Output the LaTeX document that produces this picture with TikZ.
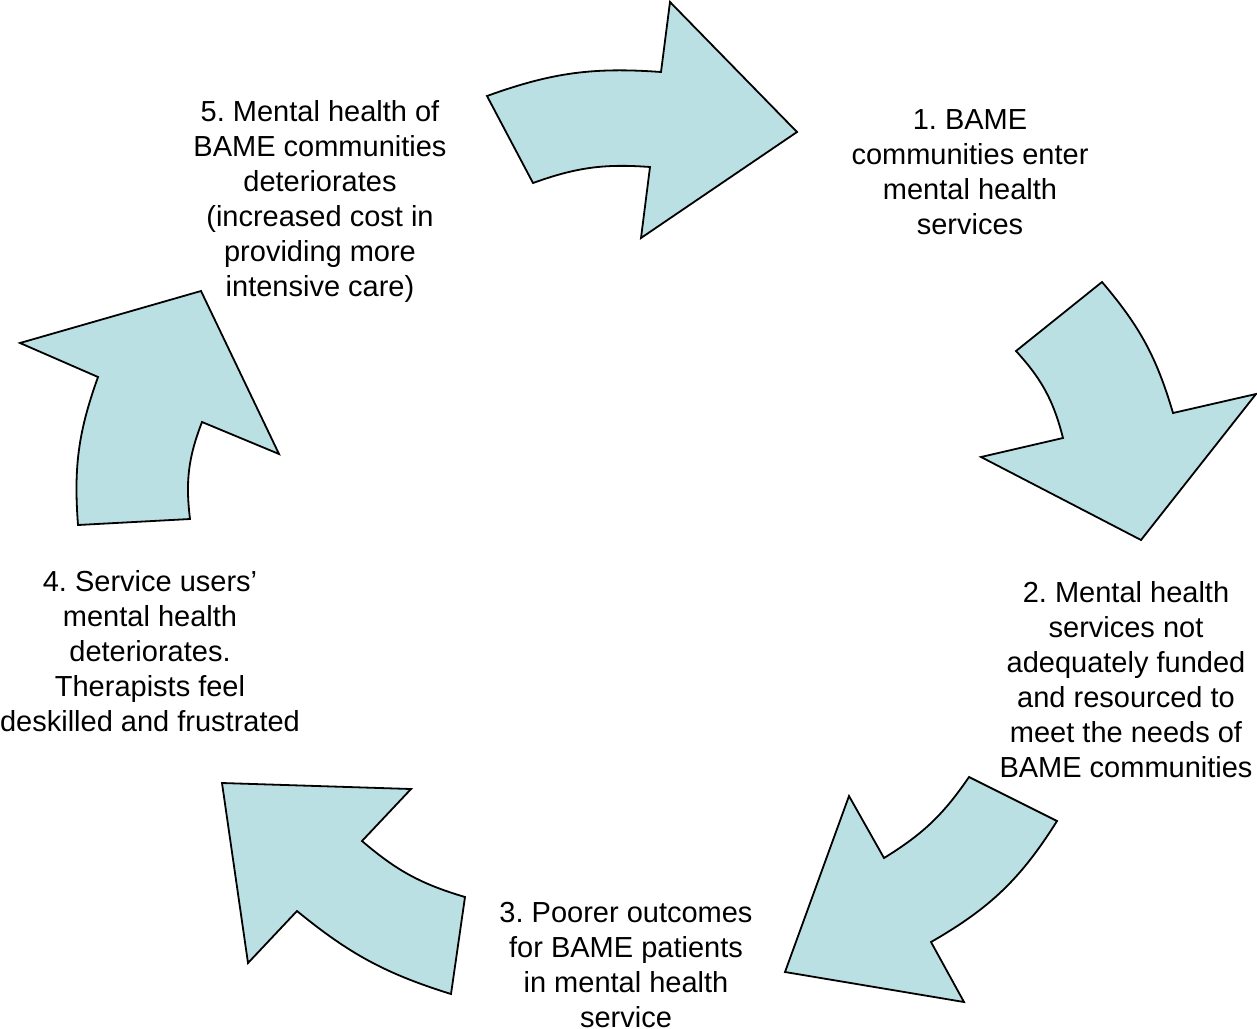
\documentclass[tikz,border=0pt]{standalone}
\usepackage{fontspec}
\setmainfont{Liberation Sans}
\definecolor{arrowfill}{HTML}{BBE0E3}
\begin{document}
\frenchspacing
\begin{tikzpicture}[x=1pt,y=-1pt,
  blockarrow/.style={draw=black,fill=arrowfill,line width=1.8pt,line join=miter},
  label/.style={align=center,inner sep=0pt,font=\fontsize{29}{35}\selectfont}]
\useasboundingbox (0,0) rectangle (1257,1028);
% arrow 1 (top)
\draw[blockarrow] (487,96) to[bend left=12] (661,72) -- (670,2) -- (797,132) -- (641,238) -- (650,167) to[bend right=12] (533,183) -- cycle;
% arrow 2 (right)
\draw[blockarrow] (1102,282) to[bend left=12] (1173,413) -- (1256,394) -- (1141,540) -- (981,457) -- (1063,438) to[bend right=14] (1016,351) -- cycle;
% arrow 3 (bottom right)
\draw[blockarrow] (1057,821) to[bend left=14] (931,942) -- (964,1002) -- (785,972) -- (849,796) -- (884,858) to[bend right=12] (969,777) -- cycle;
% arrow 4 (bottom left)
\draw[blockarrow] (451,994) to[bend left=11] (297,911) -- (248,963) -- (222,783) -- (411,789) -- (362,841) to[bend right=12] (465,897) -- cycle;
% arrow 5 (left)
\draw[blockarrow] (78,525) to[bend left=12] (98,377) -- (20,343) -- (201,291) -- (279,454) -- (202,422) to[bend right=14] (190,519) -- cycle;
% labels
\node[label] (t1) at (970,172) {1. BAME\\communities enter\\mental health\\services};
\node[label] (t2) at (1126,680) {2. Mental health\\services not\\adequately funded\\and resourced to\\meet the needs of\\BAME communities};
\node[label] (t3) at (626,965) {3. Poorer outcomes\\for BAME patients\\in mental health\\service};
\node[label] (t4) at (150,651) {4. Service users’\\mental health\\deteriorates.\\Therapists feel\\deskilled and frustrated};
\node[label] (t5) at (320,201) {5. Mental health of\\BAME communities\\deteriorates\\(increased cost in\\providing more\\intensive care)};
\end{tikzpicture}
\end{document}
